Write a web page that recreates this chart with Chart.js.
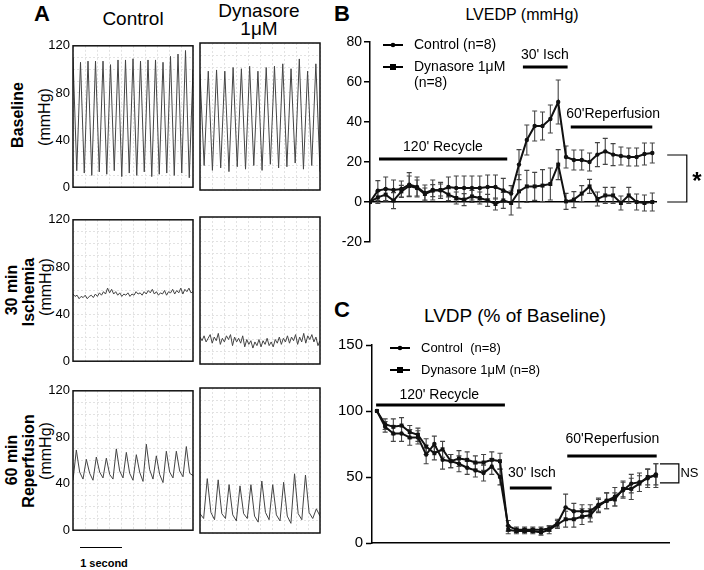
<!DOCTYPE html>
<html>
<head>
<meta charset="utf-8">
<script src="https://cdn.jsdelivr.net/npm/chart.js@4.4.1/dist/chart.umd.min.js"></script>
<style>
  body { margin: 0; width: 704px; height: 570px; position: relative; overflow: hidden; background: #fff;
         font-family: "Liberation Sans", Arial, sans-serif; color: #000; }
  canvas { position: absolute; }
  .t { position: absolute; white-space: nowrap; transform: translate(-50%, -50%); line-height: 1; }
  .r { transform: translate(-50%, -50%) rotate(-90deg); }
  .b { font-weight: bold; }
</style>
</head>
<body>
<div class="t b" style="left:42px;top:14px;font-size:22px">A</div>
<div class="t" style="left:133px;top:18px;font-size:19px">Control</div>
<div class="t" style="left:259px;top:10px;font-size:19px">Dynasore</div>
<div class="t" style="left:259px;top:28px;font-size:19px">1μM</div>

<div class="t r b" style="left:18px;top:115px;font-size:16px">Baseline</div>
<div class="t r" style="left:45px;top:117px;font-size:16px">(mmHg)</div>
<div class="t r b" style="left:12px;top:290px;font-size:16px">30 min</div>
<div class="t r b" style="left:29px;top:292px;font-size:16px">Ischemia</div>
<div class="t r" style="left:46px;top:287px;font-size:16px">(mmHg)</div>
<div class="t r b" style="left:12px;top:460px;font-size:16px">60 min</div>
<div class="t r b" style="left:29px;top:461px;font-size:16px">Reperfusion</div>
<div class="t r" style="left:46px;top:451px;font-size:16px">(mmHg)</div>

<div style="position:absolute;left:80px;top:547px;width:42px;height:0;border-top:1.5px solid #000"></div>
<div class="t b" style="left:104px;top:563px;font-size:11px">1 second</div>

<div class="t b" style="left:342px;top:14px;font-size:22px">B</div>
<div class="t" style="left:522px;top:15px;font-size:16px">LVEDP (mmHg)</div>
<div class="t b" style="left:342px;top:310px;font-size:22px">C</div>
<div class="t" style="left:515px;top:315px;font-size:19px">LVDP (% of Baseline)</div>

<script>
const FONT = '"Liberation Sans", Arial, sans-serif';

// A: pressure traces (mmHg), read beat by beat off the recordings
const baseCtrl = [110, 14, 106, 12, 107, 10, 107, 13, 107, 11, 104, 14, 108, 9, 108, 12, 109, 10, 107, 13,
                  108, 9, 108, 11, 106, 12, 111, 10, 113, 12, 116, 8, 100];
const baseDyn = [95, 20, 97, 16, 98, 18, 97, 15, 100, 19, 99, 17, 101, 20, 97, 16, 100, 21, 101, 18,
                 103, 19, 99, 22, 107, 17, 97, 20, 103, 15];
const ischCtrl = [57, 55, 56, 53, 55, 54, 56, 53, 55, 56, 54, 57, 55, 58, 56, 59, 57, 62, 58, 61,
                  57, 59, 56, 58, 55, 57, 56, 58, 55, 57, 56, 59, 57, 58, 56, 59, 57, 60, 58, 61,
                  57, 59, 56, 58, 57, 60, 56, 59, 58, 61, 57, 60, 58, 62, 57, 61, 59, 62, 58, 59];
const ischDyn = [22, 19, 23, 18, 21, 24, 17, 22, 19, 25, 16, 21, 18, 23, 20, 24, 15, 22, 18, 21,
                 17, 23, 14, 20, 16, 19, 13, 18, 15, 20, 14, 19, 16, 21, 15, 18, 14, 20, 17, 22,
                 16, 21, 18, 23, 17, 22, 19, 24, 16, 22, 18, 25, 17, 23, 20, 24, 18, 22, 15, 19];
const reperCtrl = [43, 69, 50, 44, 61, 49, 43, 63, 50, 45, 62, 48, 44, 70, 51, 45, 67, 49, 43, 65,
                   50, 42, 74, 52, 44, 64, 48, 41, 68, 50, 45, 68, 51, 46, 72, 49, 47];
const reperDyn = [16, 12, 45, 17, 11, 44, 16, 12, 40, 15, 10, 39, 16, 12, 40, 14, 9, 43, 17, 11,
                  40, 15, 10, 42, 14, 8, 49, 16, 11, 48, 17, 12, 20, 14];

// B: LVEDP (mmHg), 37 time points
const ctrlB = [0, 5.7, 6.5, 6, 6.5, 8.7, 7.5, 4.5, 6, 5.8, 7.5, 7, 7, 7, 7, 7.5, 7.5, 5.8, 4.2,
               18.7, 31, 38, 38, 41.5, 50, 22.5, 21, 21, 20, 23.7, 25.3, 23.7, 23, 22.5, 22.5, 24, 24.5];
const ctrlErrB = [0, 5, 6, 5, 4, 6, 5, 4, 5, 4, 5, 6, 6, 6, 6, 6, 6, 6, 4,
                  7.5, 7.5, 7.5, 7, 7, 11, 5.5, 5, 5, 4.5, 6, 6.5, 5.5, 4.5, 4.5, 4.5, 5.5, 5];
const dynB = [0, 2.3, 3.7, 0.7, 5.3, 8, 7, 4, 5.7, 6, 3.7, 2, 1.2, 2.8, 2, 0.8, -1, 0.8, -0.5,
              5.3, 7.8, 7.8, 8.2, 9, 18.7, 0.3, 1.2, 4.2, 7.8, 1.5, 3.3, 3.3, -0.5, 3.3, 0, -0.5, 0];
const dynErrB = [0, 3, 3, 4, 3, 5, 4, 3, 3, 3, 3, 3, 3, 3, 3, 3, 3, 4, 6,
                 8.3, 8, 7, 8, 8, 7.5, 4, 4, 4, 3.5, 3.5, 4, 4, 3.5, 4, 4, 4, 4.5];

// C: LVDP (% of baseline), 35 time points
const ctrlC = [100, 88, 83, 83, 80, 80, 67, 75, 63, 62, 60, 57, 55, 53, 58, 50, 13, 10, 10, 10,
               10, 11, 15, 27, 24, 24, 24, 29, 32, 35, 40, 45, 46, 49, 52];
const ctrlErrC = [0, 4, 6, 6, 6, 5, 7, 6, 7, 5, 6, 5, 5, 6, 6, 6, 4, 2, 2, 2,
                  2, 2, 3, 10, 6, 5, 5, 5, 6, 7, 6, 7, 7, 7, 8];
const dynC = [100, 90, 88, 89, 84, 82, 73, 68, 71, 62, 64, 63, 61, 61, 63, 62, 10, 9, 9, 9,
              8, 10, 14, 18, 18, 20, 21, 28, 32, 33, 41, 41, 45, 50, 51];
const dynErrC = [0, 4, 6, 6, 5, 5, 6, 5, 6, 5, 6, 6, 5, 6, 6, 6, 3, 2, 2, 2,
                 2, 3, 3, 6, 6, 6, 5, 5, 6, 5, 6, 8, 6, 6, 9];

const seriesNames = ['Control (n=8)', 'Dynasore 1μM (n=8)'];

function addCanvas(left, top, w, h) {
  const cv = document.createElement('canvas');
  cv.width = w; cv.height = h;
  cv.style.left = left + 'px'; cv.style.top = top + 'px';
  document.body.appendChild(cv);
  return cv;
}

const boxPlugin = {
  id: 'box',
  afterDraw(chart) {
    const { ctx, chartArea: a } = chart;
    ctx.save();
    ctx.strokeStyle = '#111'; ctx.lineWidth = 1.5;
    ctx.strokeRect(a.left, a.top, a.right - a.left, a.bottom - a.top);
    ctx.restore();
  }
};

function traceChart(vals, x0, y0, x1, y1, withTicks) {
  const padL = withTicks ? 43 : 4;
  const cv = addCanvas(x0 - padL, y0 - 8, x1 - x0 + padL + 4, y1 - y0 + 16);
  new Chart(cv, {
    type: 'line',
    data: {
      datasets: [{
        data: vals.map((v, i) => ({ x: i * 100 / (vals.length - 1), y: v })),
        borderColor: '#444', borderWidth: 1, pointRadius: 0, tension: 0
      }]
    },
    options: {
      responsive: false, animation: false, events: [],
      layout: { padding: { left: withTicks ? 0 : 4, right: 4, top: 8, bottom: 8 } },
      plugins: { legend: { display: false }, tooltip: { enabled: false } },
      scales: {
        x: {
          type: 'linear', min: 0, max: 100,
          ticks: { stepSize: 10, display: false },
          grid: { color: '#e2e2e2', drawTicks: false },
          border: { display: false, dash: [2, 2] },
          afterFit: s => { s.height = 0; }
        },
        y: {
          min: 0, max: 120,
          ticks: {
            stepSize: 10, autoSkip: false, display: withTicks, padding: 3, color: '#000',
            font: { family: FONT, size: 13 },
            callback: v => (v % 40 === 0 ? v : '')
          },
          grid: { color: '#e2e2e2', drawTicks: false },
          border: { display: false, dash: [2, 2] },
          afterFit: s => { s.width = withTicks ? 43 : 0; }
        }
      }
    },
    plugins: [boxPlugin]
  });
}

traceChart(baseCtrl, 73, 43, 193, 190, true);
traceChart(baseDyn, 200, 43, 320, 190, false);
traceChart(ischCtrl, 73, 217, 193, 364, true);
traceChart(ischDyn, 200, 217, 320, 364, false);
traceChart(reperCtrl, 73, 388, 193, 533, true);
traceChart(reperDyn, 200, 388, 320, 533, false);

const errorBars = {
  id: 'errorBars',
  beforeDatasetsDraw(chart) {
    const { ctx, scales: { x, y } } = chart;
    ctx.save();
    ctx.strokeStyle = '#444'; ctx.lineWidth = 1.1;
    chart.data.datasets.forEach(ds => {
      ds.data.forEach((p, i) => {
        const e = ds.errors[i];
        if (!e) return;
        const px = x.getPixelForValue(p.x);
        const ya = y.getPixelForValue(p.y - e), yb = y.getPixelForValue(p.y + e);
        ctx.beginPath();
        ctx.moveTo(px, ya); ctx.lineTo(px, yb);
        ctx.moveTo(px - 2.5, ya); ctx.lineTo(px + 2.5, ya);
        ctx.moveTo(px - 2.5, yb); ctx.lineTo(px + 2.5, yb);
        ctx.stroke();
      });
    });
    ctx.restore();
  }
};

// bars, labels, brackets in data units; legend keys in page pixels
function decoPlugin(offX, offY, items) {
  return {
    id: 'deco',
    afterDraw(chart) {
      const { ctx, scales: { x, y } } = chart;
      ctx.save();
      ctx.strokeStyle = '#000'; ctx.fillStyle = '#000';
      items.forEach(it => {
        if (it.bar) {
          ctx.lineWidth = 3;
          ctx.beginPath();
          ctx.moveTo(x.getPixelForValue(it.bar[0]), y.getPixelForValue(it.bar[2]));
          ctx.lineTo(x.getPixelForValue(it.bar[1]), y.getPixelForValue(it.bar[2]));
          ctx.stroke();
        } else if (it.bracket) {
          const [a, b, lo, hi] = it.bracket;
          ctx.lineWidth = 1.2;
          ctx.beginPath();
          ctx.moveTo(x.getPixelForValue(a), y.getPixelForValue(hi));
          ctx.lineTo(x.getPixelForValue(b), y.getPixelForValue(hi));
          ctx.lineTo(x.getPixelForValue(b), y.getPixelForValue(lo));
          ctx.lineTo(x.getPixelForValue(a), y.getPixelForValue(lo));
          ctx.stroke();
        } else if (it.text) {
          ctx.font = (it.bold ? 'bold ' : '') + it.size + 'px ' + FONT;
          ctx.textAlign = it.align || 'center'; ctx.textBaseline = 'middle';
          ctx.fillText(it.text, x.getPixelForValue(it.x), y.getPixelForValue(it.y));
        } else if (it.key) {
          const kx = it.px - offX, ky = it.py - offY;
          ctx.lineWidth = 2;
          ctx.beginPath(); ctx.moveTo(kx, ky); ctx.lineTo(kx + 20, ky); ctx.stroke();
          if (it.key === 'rect') ctx.fillRect(kx + 7, ky - 3, 6, 6);
          else { ctx.beginPath(); ctx.arc(kx + 10, ky, 2.3, 0, Math.PI * 2); ctx.fill(); }
          ctx.font = it.size + 'px ' + FONT;
          ctx.textAlign = 'left'; ctx.textBaseline = 'middle';
          it.lines.forEach((s, j) => ctx.fillText(s, kx + 31, ky + j * 16));
        }
      });
      ctx.restore();
    }
  };
}

function seriesSet(vals, errs, name, style) {
  return {
    label: name,
    data: vals.map((v, i) => ({ x: i, y: v })),
    errors: errs,
    borderColor: '#111', backgroundColor: '#111', borderWidth: 2,
    pointStyle: style, pointRadius: style === 'rect' ? 2.8 : 2.2, pointBorderWidth: 0, tension: 0
  };
}

// B
const cvB = addCanvas(330, 0, 374, 262);
new Chart(cvB, {
  type: 'line',
  data: { datasets: [seriesSet(ctrlB, ctrlErrB, seriesNames[0], 'circle'), seriesSet(dynB, dynErrB, seriesNames[1], 'rect')] },
  options: {
    responsive: false, animation: false, events: [],
    layout: { padding: { left: 0, right: 47, top: 42, bottom: 20 } },
    plugins: { legend: { display: false }, tooltip: { enabled: false } },
    scales: {
      x: { type: 'linear', min: 0, max: 36.6, display: false },
      y: {
        min: -20, max: 80,
        ticks: { stepSize: 20, padding: 2, color: '#000', font: { family: FONT, size: 14 } },
        grid: {
          color: c => (c.tick.value === 0 ? '#000' : 'rgba(0,0,0,0)'),
          lineWidth: 1.5, tickColor: '#000', tickWidth: 1.5, tickLength: 6
        },
        border: { display: true, color: '#000', width: 1.5 },
        afterFit: s => { s.width = 40; }
      }
    }
  },
  plugins: [errorBars, decoPlugin(330, 0, [
    { key: 'circle', px: 383, py: 45, size: 14, lines: ['Control (n=8)'] },
    { key: 'rect', px: 383, py: 67, size: 14, lines: ['Dynasore 1μM', '(n=8)'] },
    { text: '30\' Isch', x: 22.3, y: 73.5, size: 14 },
    { bar: [19.5, 25.2, 67.5] },
    { text: '60\'Reperfusion', x: 31, y: 44, size: 14 },
    { bar: [25.6, 36, 37.5] },
    { text: '120\' Recycle', x: 9.3, y: 27.5, size: 14 },
    { bar: [1.15, 17.5, 21.5] },
    { bracket: [37.9, 40.4, 0, 23.5] },
    { text: '*', x: 41.7, y: 10, size: 24, bold: true }
  ])]
});

// C
const cvC = addCanvas(330, 290, 374, 280);
new Chart(cvC, {
  type: 'line',
  data: { datasets: [seriesSet(ctrlC, ctrlErrC, seriesNames[0], 'circle'), seriesSet(dynC, dynErrC, seriesNames[1], 'rect')] },
  options: {
    responsive: false, animation: false, events: [],
    layout: { padding: { left: 0, right: 35, top: 55, bottom: 27 } },
    plugins: { legend: { display: false }, tooltip: { enabled: false } },
    scales: {
      x: {
        type: 'linear', min: -0.6, max: 35.6,
        ticks: { display: false }, grid: { display: false },
        border: { display: true, color: '#000', width: 1.5 },
        afterFit: s => { s.height = 0; }
      },
      y: {
        min: 0, max: 150,
        ticks: { stepSize: 50, padding: 3, color: '#000', font: { family: FONT, size: 15 } },
        grid: { drawOnChartArea: false, color: '#000', tickColor: '#000', tickWidth: 1.5, tickLength: 6 },
        border: { display: true, color: '#000', width: 1.5 },
        afterFit: s => { s.width = 42; }
      }
    }
  },
  plugins: [errorBars, decoPlugin(330, 290, [
    { key: 'circle', px: 390, py: 348, size: 13, lines: ['Control  (n=8)'] },
    { key: 'rect', px: 390, py: 370, size: 13, lines: ['Dynasore 1μM (n=8)'] },
    { text: '120\' Recycle', x: 7.6, y: 112, size: 14 },
    { bar: [-0.1, 15.6, 104.5] },
    { text: '30\' Isch', x: 18.9, y: 53, size: 14 },
    { bar: [16.2, 21.3, 41.7] },
    { text: '60\'Reperfusion', x: 28.7, y: 78.8, size: 14 },
    { bar: [23.2, 34.1, 66] },
    { bracket: [34.5, 36.8, 45.5, 60] },
    { text: 'NS', x: 37.0, y: 53, size: 13, align: 'left' }
  ])]
});
</script>
</body>
</html>
